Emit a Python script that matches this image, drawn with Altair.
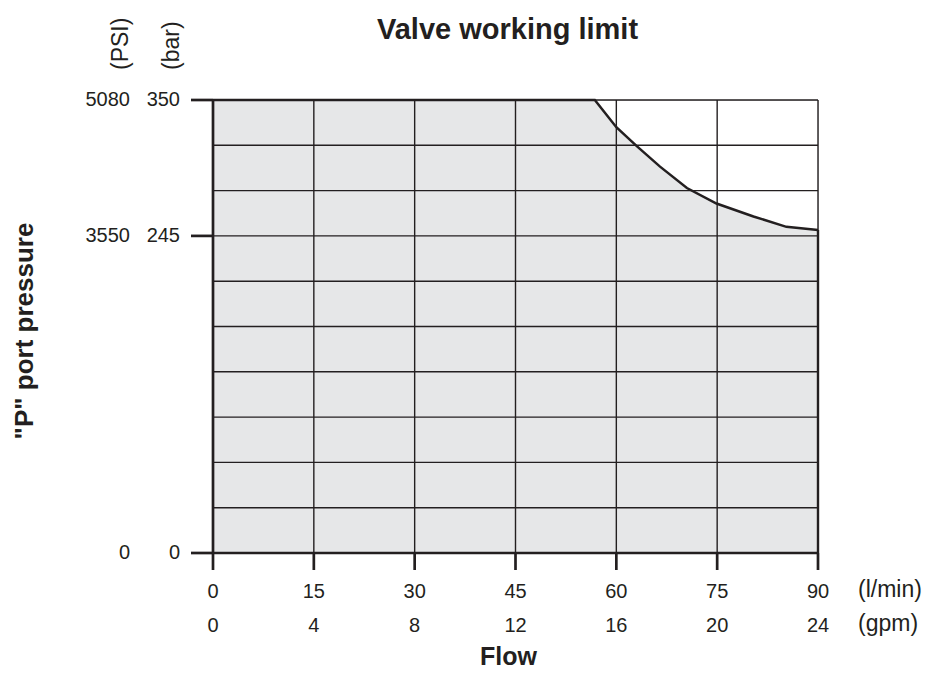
import altair as alt
import pandas as pd

# ---- data ----
flow_lpm = [0, 15, 30, 45, 60, 75, 90]
flow_gpm = [0, 4, 8, 12, 16, 20, 24]
bar_ticks = [0, 245, 350]
psi_ticks = [0, 3550, 5080]
grid_bar = [35, 70, 105, 140, 175, 210, 245, 280, 315, 350]
grid_flow = [15, 30, 45, 60, 75, 90]
curve_flow = [0, 56.8, 60.0, 63.0, 66.5, 70.5, 74.9, 80.4, 85.3, 90]
curve_bar = [350, 350, 329, 314.5, 298.5, 282, 270, 260, 252, 249.5]

title_text = "Valve working limit"
x_title = "Flow"
y_title = '"P"  port  pressure'
x_unit1 = "(l/min)"
x_unit2 = "(gpm)"
y_unit_psi = "(PSI)"
y_unit_bar = "(bar)"

W, H = 605, 453
INK = "#231f20"
FONT = "Liberation Sans"

curve_df = pd.DataFrame({"flow": curve_flow, "bar": curve_bar,
                         "base": [0] * len(curve_flow)})
xt_df = pd.DataFrame({"flow": flow_lpm, "lpm": [str(v) for v in flow_lpm],
                      "gpm": [str(v) for v in flow_gpm]})
yt_df = pd.DataFrame({"bar": bar_ticks, "barl": [str(v) for v in bar_ticks],
                      "psil": [str(v) for v in psi_ticks]})
gb_df = pd.DataFrame({"bar": grid_bar})
gf_df = pd.DataFrame({"flow": grid_flow})
axes_df = pd.DataFrame({"flow0": [0], "flow1": [max(flow_lpm)],
                        "bar0": [0], "bar1": [max(bar_ticks)]})
edge_df = pd.DataFrame({"flow": [curve_flow[-1]], "bar": [curve_bar[-1]], "base": [0]})

xs = alt.Scale(domain=[0, 90], nice=False, zero=True)
ys = alt.Scale(domain=[0, 350], nice=False, zero=True)

area = alt.Chart(curve_df).mark_area(color="#e6e7e8").encode(
    x=alt.X("flow:Q", scale=xs, axis=None),
    y=alt.Y("bar:Q", scale=ys, axis=None),
    y2="base:Q",
)

grid_h = alt.Chart(gb_df).mark_rule(color=INK, strokeWidth=1.4).encode(
    y=alt.Y("bar:Q", scale=ys, axis=None))
grid_v = alt.Chart(gf_df).mark_rule(color=INK, strokeWidth=1.4).encode(
    x=alt.X("flow:Q", scale=xs, axis=None))

curve = alt.Chart(curve_df).mark_line(color=INK, strokeWidth=2.5).encode(
    x=alt.X("flow:Q", scale=xs, axis=None), y=alt.Y("bar:Q", scale=ys, axis=None))

right_edge = alt.Chart(edge_df).mark_rule(color=INK, strokeWidth=2.4).encode(
    x=alt.X("flow:Q", scale=xs, axis=None), y=alt.Y("bar:Q", scale=ys, axis=None), y2="base:Q")

left_axis = alt.Chart(axes_df).mark_rule(color=INK, strokeWidth=2.7).encode(
    x=alt.X("flow0:Q", scale=xs, axis=None), y=alt.Y("bar0:Q", scale=ys, axis=None), y2="bar1:Q")
bottom_axis = alt.Chart(axes_df).mark_rule(color=INK, strokeWidth=2.7).encode(
    y=alt.Y("bar0:Q", scale=ys, axis=None), x=alt.X("flow0:Q", scale=xs, axis=None), x2="flow1:Q")

y_ticks = alt.Chart(yt_df).mark_rule(color=INK, strokeWidth=2.7).encode(
    y=alt.Y("bar:Q", scale=ys, axis=None), x=alt.value(-22), x2=alt.value(0))
x_ticks = alt.Chart(xt_df).mark_rule(color=INK, strokeWidth=2.7).encode(
    x=alt.X("flow:Q", scale=xs, axis=None), y=alt.value(H), y2=alt.value(H + 17))

tick_font = dict(font=FONT, fontSize=20, color=INK)
x_lab1 = alt.Chart(xt_df).mark_text(align="center", baseline="middle", **tick_font).encode(
    x=alt.X("flow:Q", scale=xs, axis=None), y=alt.value(H + 39), text="lpm:N")
x_lab2 = alt.Chart(xt_df).mark_text(align="center", baseline="middle", **tick_font).encode(
    x=alt.X("flow:Q", scale=xs, axis=None), y=alt.value(H + 73), text="gpm:N")
y_lab_bar = alt.Chart(yt_df).mark_text(align="right", baseline="middle", **tick_font).encode(
    y=alt.Y("bar:Q", scale=ys, axis=None), x=alt.value(-33), text="barl:N")
y_lab_psi = alt.Chart(yt_df).mark_text(align="right", baseline="middle", **tick_font).encode(
    y=alt.Y("bar:Q", scale=ys, axis=None), x=alt.value(-83), text="psil:N")


def label(txt, x, y, size, weight="normal", align="center", angle=0):
    return alt.Chart(pd.DataFrame({"t": [txt]})).mark_text(
        align=align, baseline="middle", font=FONT, fontSize=size, fontWeight=weight,
        color=INK, angle=angle
    ).encode(x=alt.value(x), y=alt.value(y), text="t:N")


units = [
    label(x_unit1, W + 40, H + 37, 23, align="left"),
    label(x_unit2, W + 40, H + 71, 23, align="left"),
    label(y_unit_psi, -92, -30, 23, align="left", angle=270),
    label(y_unit_bar, -41, -30, 23, align="left", angle=270),
    label(title_text, W / 2 - 8, -70, 29, weight="bold"),
    label(x_title, W / 2 - 7, H + 104, 25, weight="bold"),
    label(y_title, -188, 231, 26, weight="bold", angle=270),
]

chart = alt.layer(
    area, grid_h, grid_v, curve, right_edge, left_axis, bottom_axis,
    y_ticks, x_ticks, x_lab1, x_lab2, y_lab_bar, y_lab_psi, *units,
).properties(
    width=W, height=H,
    autosize=alt.AutoSizeParams(type="none"),
    padding={"left": 205, "top": 92, "right": 106, "bottom": 117},
).configure_view(stroke=None).configure(background="white")

chart.save("out.html", embed_options={"renderer": "svg", "actions": False})
